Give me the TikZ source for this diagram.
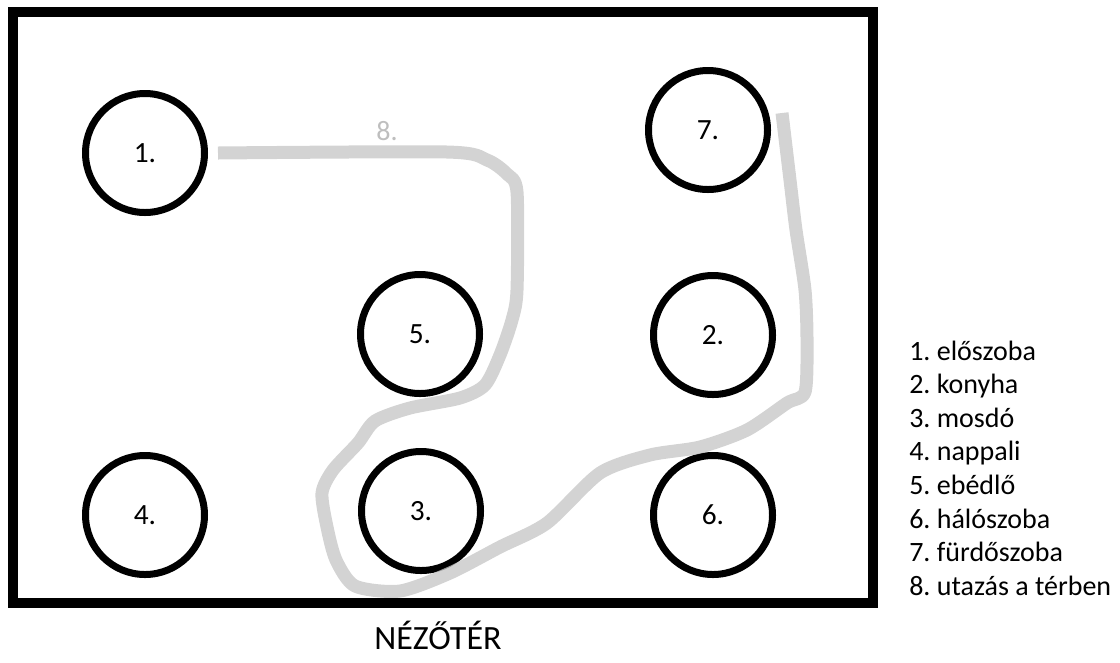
\documentclass[tikz,border=0pt]{standalone}
\usepackage{fontspec}
\setmainfont{Carlito}
\frenchspacing
\definecolor{pathgray}{RGB}{197,197,197}
\definecolor{labelgray}{RGB}{190,190,190}
\begin{document}
\begin{tikzpicture}[x=0.75pt,y=-0.75pt,
  room/.style={circle,draw=black,line width=5.25pt,minimum size=89.25pt,inner sep=0pt,font=\fontsize{22}{26}\selectfont},
  legendline/.style={anchor=base west,inner sep=0pt,font=\fontsize{21}{25}\selectfont},
  travel/.style={draw=pathgray,line width=9.75pt,opacity=0.76,line join=round,line cap=butt},
  stage/.style={draw=black,line width=7.5pt}]
\useasboundingbox (0,0) rectangle (1120,662);
\draw[stage] (13,12) rectangle (873,603);
\node[room] (c1) at (145,153) {1.};
\node[room] (c7) at (708,130) {7.};
\node[room] (c5) at (420,334) {5.};
\node[room] (c2) at (713,335) {2.};
\node[room] (c4) at (145,515) {4.};
\node[room] (c3) at (421,511) {3.};
\node[room] (c6) at (713,515) {6.};
\coordinate (start) at ([xshift=7.5pt]c1.east);
\coordinate (end) at ([shift={(11,-17)}]c7.east);
\draw[travel] plot[smooth,tension=0.45] coordinates {(start) (447,152) (487,160) (507,174) (517,192) (517,290) (512,320) (500,355) (485,385) (460,398) (410,408) (375,421) (358,443) (333,470) (322,493) (327,527) (336,560) (355,586) (400,591) (450,573) (500,547) (547,523) (600,473) (650,455) (700,447) (747,430) (787,403) (805,392) (807,340) (805,290) (796,230) (790,180) (end)};
\node[labelgray,font=\fontsize{21}{25}\selectfont,inner sep=0pt] (lab8) at (387,131) {8.};
\node[anchor=base,inner sep=0pt,font=\fontsize{25.5}{30}\selectfont] (audience) at (438,649) {NÉZŐTÉR};
\node[legendline] (l1) at (909,360) {1. előszoba};
\node[legendline] (l2) at (909,393.6) {2. konyha};
\node[legendline] (l3) at (909,427.2) {3. mosdó};
\node[legendline] (l4) at (909,460.8) {4. nappali};
\node[legendline] (l5) at (909,494.4) {5. ebédlő};
\node[legendline] (l6) at (909,528) {6. hálószoba};
\node[legendline] (l7) at (909,561.6) {7. fürdőszoba};
\node[legendline] (l8) at (909,595.2) {8. utazás a térben};
\end{tikzpicture}
\end{document}
